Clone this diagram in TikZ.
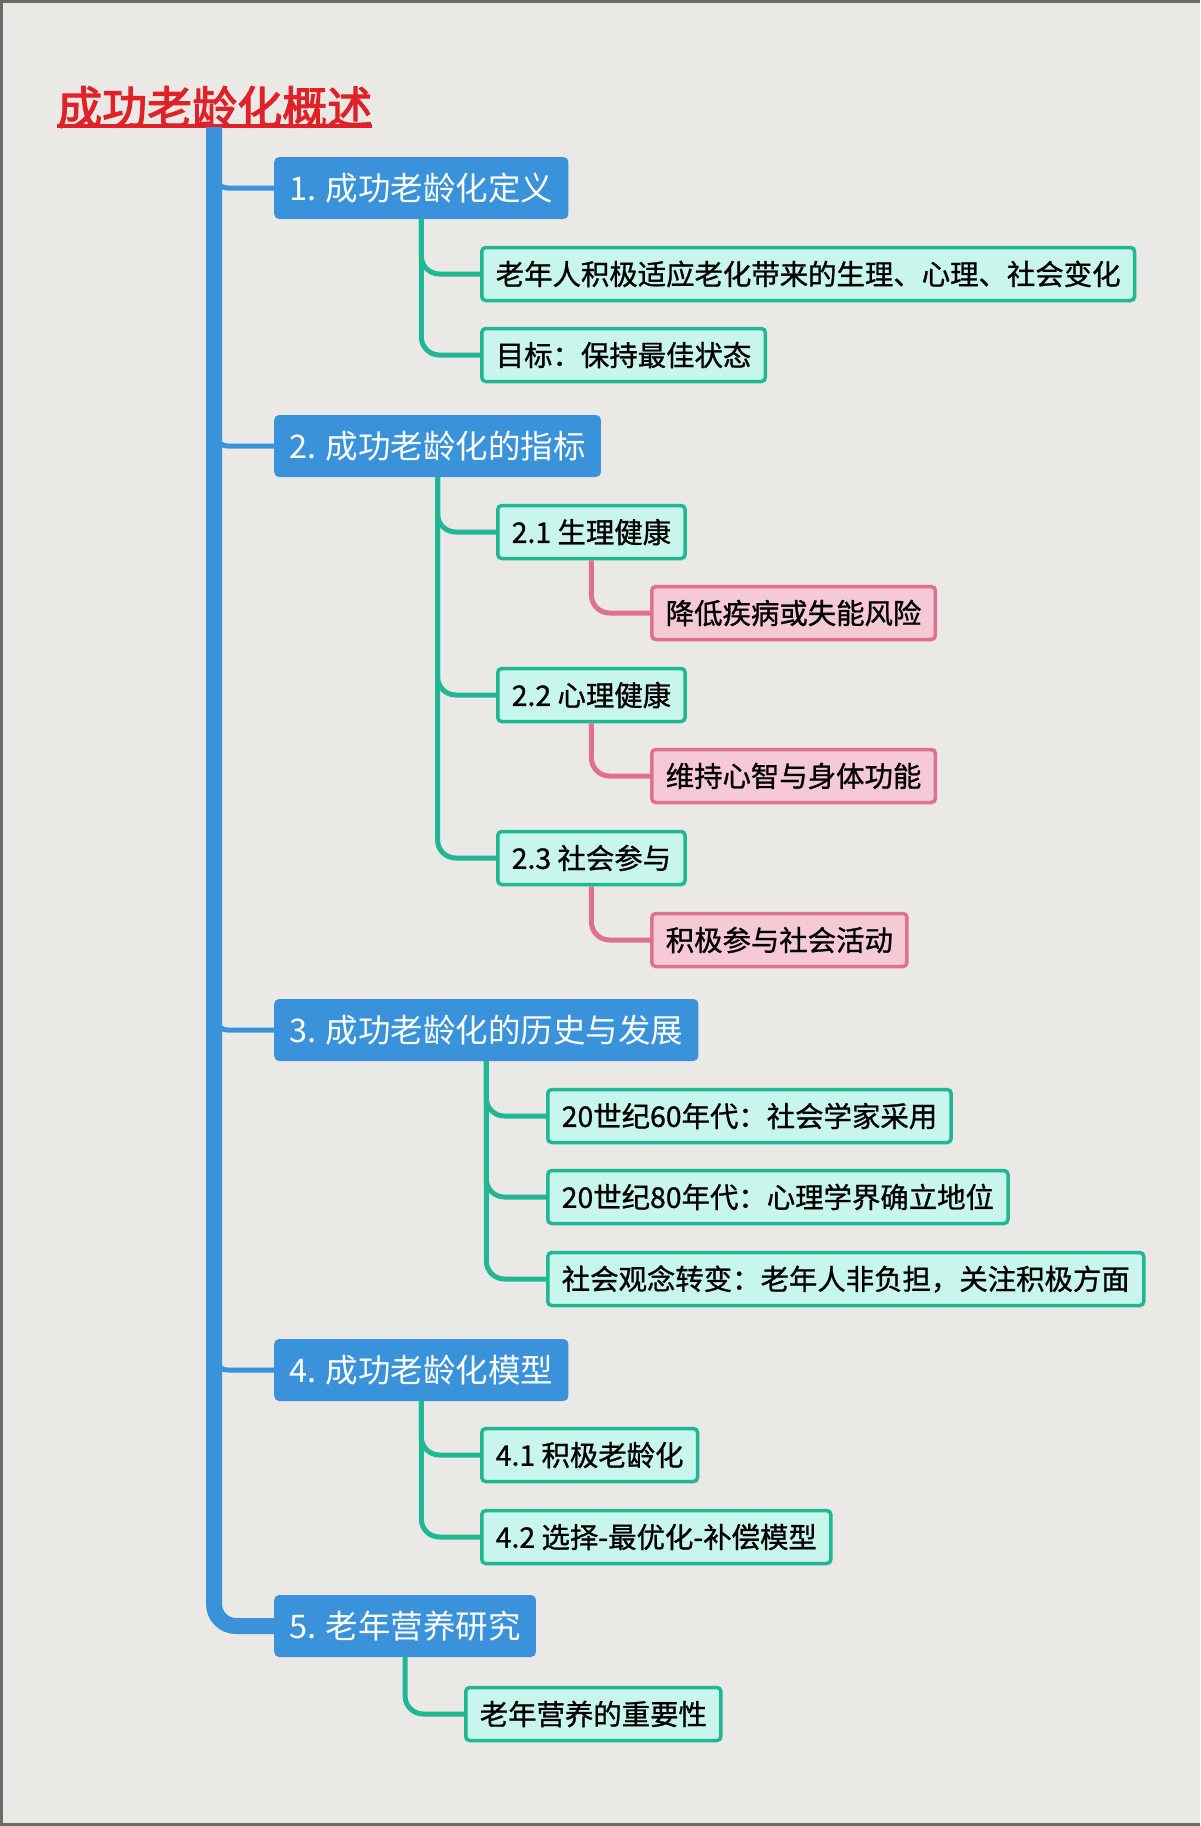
\documentclass[tikz,border=0pt]{standalone}
\usepackage{fontspec}
\usetikzlibrary{calc}
\newfontfamily\cjk{Noto Sans CJK SC}
\newfontfamily\cjkb[FakeBold=1]{Noto Sans CJK SC}
\newfontfamily\cjkt[FakeBold=2.5]{Noto Sans CJK SC}
\definecolor{bgc}{HTML}{EAE9E5}
\definecolor{mblue}{HTML}{3A92DB}
\definecolor{mteal}{HTML}{20B795}
\definecolor{mmint}{HTML}{C9F6EC}
\definecolor{mpinkd}{HTML}{E0708F}
\definecolor{mpinkf}{HTML}{F5C9D5}
\definecolor{mred}{HTML}{E02228}
\tikzset{
  parentbox/.style={anchor=west, fill=mblue, rounded corners=5pt, text=white,
    font=\cjk\fontsize{32.5}{33}\selectfont, minimum height=62pt, inner xsep=15pt, inner ysep=0pt},
  childbox/.style={anchor=west, fill=mmint, draw=mteal, line width=3.5pt, rounded corners=4pt, text=black,
    font=\cjkb\fontsize{28.4}{28.4}\selectfont, minimum height=53pt, inner xsep=14pt, inner ysep=0pt},
  pinkbox/.style={childbox, fill=mpinkf, draw=mpinkd},
  trunkline/.style={draw=mblue, line width=16pt, rounded corners=22pt},
  branchline/.style={draw=mblue, line width=5pt, rounded corners=14pt},
  gline/.style={draw=mteal, line width=5pt, rounded corners=18pt},
  pline/.style={draw=mpinkd, line width=5pt, rounded corners=18pt},
}
\begin{document}
\begin{tikzpicture}[x=1pt,y=-1pt]
\fill[bgc] (0,0) rectangle (1200,1826);
\useasboundingbox (0,0) rectangle (1200,1826);
\draw[color=black!58, line width=3pt] (1200,1.5) -- (1.5,1.5) -- (1.5,1824.5) -- (1200,1824.5);

% title
\node[anchor=west, inner sep=0pt, text=mred, font=\cjkt\fontsize{45}{45}\selectfont] (title) at (57,107) {成功老龄化概述};
\coordinate (ul) at (0,126);
\draw[mred, line width=4pt] (title.west |- ul) -- (title.east |- ul);

% parent nodes
\node[parentbox] (n1) at (274,188) {1. 成功老龄化定义};
\node[parentbox] (n2) at (274,446) {2. 成功老龄化的指标};
\node[parentbox] (n3) at (274,1030) {3. 成功老龄化的历史与发展};
\node[parentbox] (n4) at (274,1370) {4. 成功老龄化模型};
\node[parentbox] (n5) at (274,1626) {5. 老年营养研究};

% children
\node[childbox] (c1a) at (480,274) {老年人积极适应老化带来的生理、心理、社会变化};
\node[childbox] (c1b) at (480,355) {目标：保持最佳状态};
\node[childbox] (c21) at (496,532) {2.1 生理健康};
\node[pinkbox] (p21) at (650,613) {降低疾病或失能风险};
\node[childbox] (c22) at (496,695) {2.2 心理健康};
\node[pinkbox] (p22) at (650,776) {维持心智与身体功能};
\node[childbox] (c23) at (496,858) {2.3 社会参与};
\node[pinkbox] (p23) at (650,940) {积极参与社会活动};
\node[childbox] (c3a) at (546,1116) {20世纪60年代：社会学家采用};
\node[childbox] (c3b) at (546,1197) {20世纪80年代：心理学界确立地位};
\node[childbox] (c3c) at (546,1279) {社会观念转变：老年人非负担，关注积极方面};
\node[childbox] (c41) at (480,1455) {4.1 积极老龄化};
\node[childbox] (c42) at (480,1537) {4.2 选择-最优化-补偿模型};
\node[childbox] (c5a) at (464,1714) {老年营养的重要性};

% trunk and branches
\coordinate (tr) at (214,127);
\draw[branchline] ($(n1.west -| tr)+(0,-22)$) |- (n1.west);
\draw[branchline] ($(n2.west -| tr)+(0,-22)$) |- (n2.west);
\draw[branchline] ($(n3.west -| tr)+(0,-22)$) |- (n3.west);
\draw[branchline] ($(n4.west -| tr)+(0,-22)$) |- (n4.west);
\draw[trunkline] (tr) |- ($(n5.west)+(2,0)$);
\draw[branchline] ($(n5.west -| tr)+(0,-22)$) |- (n5.west);

% green connectors
\draw[gline] (n1.south) |- (c1a.west);
\draw[gline] (n1.south) |- (c1b.west);
\draw[gline] (n2.south) |- (c21.west);
\draw[gline] (n2.south) |- (c22.west);
\draw[gline] (n2.south) |- (c23.west);
\draw[gline] (n3.south) |- (c3a.west);
\draw[gline] (n3.south) |- (c3b.west);
\draw[gline] (n3.south) |- (c3c.west);
\draw[gline] (n4.south) |- (c41.west);
\draw[gline] (n4.south) |- (c42.west);
\draw[gline] (n5.south) |- (c5a.west);

% pink connectors
\draw[pline] (c21.south) |- (p21.west);
\draw[pline] (c22.south) |- (p22.west);
\draw[pline] (c23.south) |- (p23.west);
\end{tikzpicture}
\end{document}
